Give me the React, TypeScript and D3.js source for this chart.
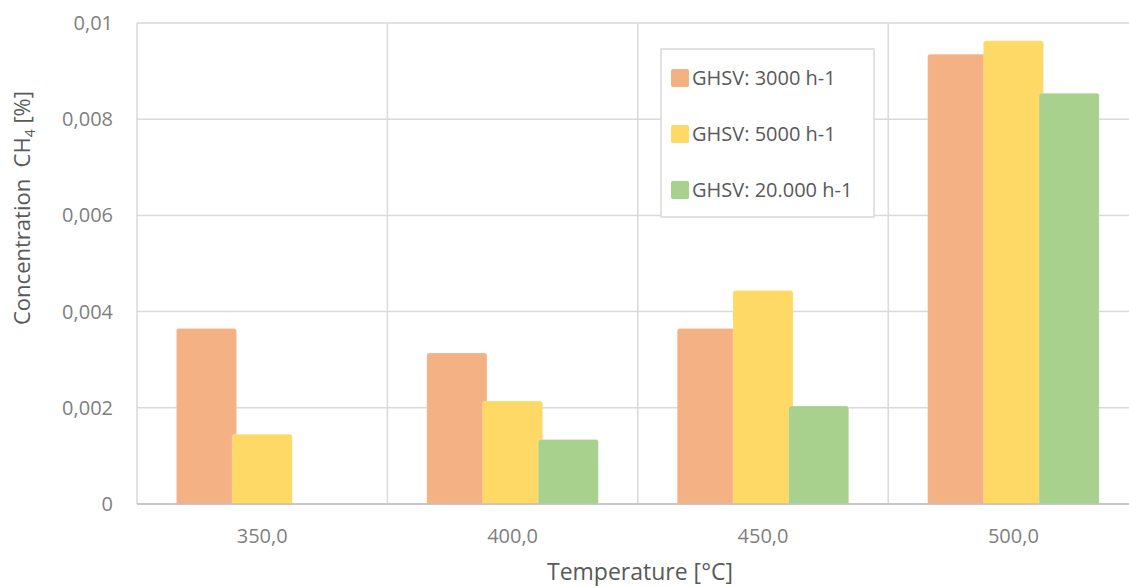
import React from "react";
import * as d3 from "d3";

const categories = ["350,0", "400,0", "450,0", "500,0"];
const seriesNames = ["GHSV: 3000 h-1", "GHSV: 5000 h-1", "GHSV: 20.000 h-1"];
const ghsv3000 = [0.00365, 0.00314, 0.00365, 0.00935];
const ghsv5000 = [0.00145, 0.00214, 0.00444, 0.00963];
const ghsv20000 = [0, 0.00134, 0.00204, 0.00854];
const yTicks = [0, 0.002, 0.004, 0.006, 0.008, 0.01];
const yTickLabels = ["0", "0,002", "0,004", "0,006", "0,008", "0,01"];

const colors = ["#F4B183", "#FFD966", "#A9D18E"];
const FONT = "'Open Sans', sans-serif";

export default function App() {
  const W = 1129;
  const H = 587;
  const plotLeft = 137;
  const plotRight = 137 + 4 * 250.4;
  const plotTop = 23;
  const plotBottom = 504;

  const series = [ghsv3000, ghsv5000, ghsv20000];

  const x = d3.scaleBand<string>().domain(categories).range([plotLeft, plotRight]).padding(0);
  const y = d3.scaleLinear().domain([0, 0.01]).range([plotBottom, plotTop]);

  const bw = x.bandwidth();
  const barW = bw * 0.24;
  const step = bw * 0.2225;
  const groupW = 2 * step + barW;

  const boundaries = categories.map((c) => x(c)!).concat([plotRight]);

  const barPath = (x0: number, y0: number, w: number, h: number, r: number) => {
    const rr = Math.min(r, h / 2, w / 2);
    return `M${x0},${y0 + h}V${y0 + rr}Q${x0},${y0} ${x0 + rr},${y0}H${x0 + w - rr}Q${x0 + w},${y0} ${x0 + w},${y0 + rr}V${y0 + h}Z`;
  };

  return (
    <svg
      width={W}
      height={H}
      style={{ position: "absolute", left: 0, top: 0, background: "#fff" }}
      fontFamily={FONT}
    >
      {/* horizontal gridlines */}
      {yTicks.map((t) => (
        <line key={"h" + t} x1={plotLeft} x2={plotRight} y1={y(t)} y2={y(t)} stroke="#d9d9d9" strokeWidth={1.5} />
      ))}
      {/* vertical gridlines at category boundaries */}
      {boundaries.map((b, i) => (
        <line key={"v" + i} x1={b} x2={b} y1={plotTop} y2={plotBottom} stroke="#d9d9d9" strokeWidth={1.5} />
      ))}

      {/* bars */}
      {categories.map((c, ci) => {
        const gx = x(c)! + (bw - groupW) / 2;
        return series.map((s, si) => {
          const v = s[ci];
          if (v <= 0) return null;
          const bx = gx + si * step;
          const by = y(v);
          return (
            <path
              key={c + si}
              d={barPath(bx, by, barW, plotBottom - by, 2.5)}
              fill={colors[si]}
              stroke="#fff"
              strokeOpacity={0.25}
              strokeWidth={0.75}
            />
          );
        });
      })}

      {/* x axis line */}
      <line x1={plotLeft} x2={plotRight} y1={plotBottom} y2={plotBottom} stroke="#bfbfbf" strokeWidth={1.5} />

      {/* y tick labels */}
      {yTicks.map((t, i) => (
        <text key={"yt" + t} x={113} y={y(t)} dy="0.35em" textAnchor="end" fontSize={20} fill="#7f7f7f">
          {yTickLabels[i]}
        </text>
      ))}

      {/* x tick labels */}
      {categories.map((c) => (
        <text key={"xt" + c} x={x(c)! + bw / 2} y={536} dy="0.35em" textAnchor="middle" fontSize={20} fill="#7f7f7f">
          {c}
        </text>
      ))}

      {/* axis titles */}
      <text x={640} y={572} dy="0.35em" textAnchor="middle" fontSize={23} fill="#595959">
        Temperature [°C]
      </text>
      <text
        transform={`translate(22,208) rotate(-90)`}
        textAnchor="middle"
        dy="0.35em"
        fontSize={22}
        fill="#595959"
        xmlSpace="preserve"
        style={{ whiteSpace: "pre" }}
      >
        <tspan>{"Concentration\u00A0\u00A0CH"}</tspan>
        <tspan fontSize={14} dy="5">4</tspan>
        <tspan dy="-5">{"\u00A0[%]"}</tspan>
      </text>

      {/* legend */}
      <rect x={661} y={49} width={213} height={168} fill="#fff" stroke="#d9d9d9" strokeWidth={1.5} />
      {seriesNames.map((n, i) => {
        const cy = 78 + i * 56;
        return (
          <g key={n}>
            <rect x={671} y={cy - 9} width={18} height={18} rx={2} fill={colors[i]} />
            <text x={692} y={cy} dy="0.35em" fontSize={20} fill="#595959">
              {n}
            </text>
          </g>
        );
      })}
    </svg>
  );
}
